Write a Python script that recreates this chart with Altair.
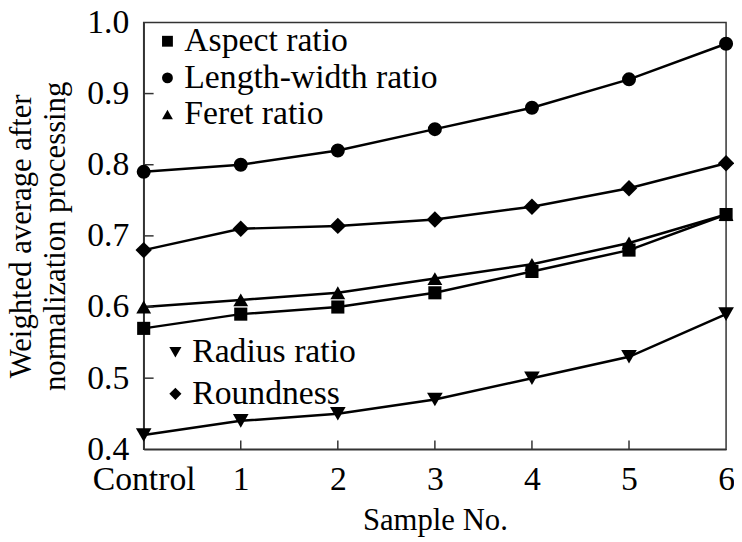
import altair as alt
import pandas as pd

samples = ["Control", "1", "2", "3", "4", "5", "6"]
aspect_ratio = [0.57, 0.59, 0.60, 0.62, 0.65, 0.68, 0.73]
length_width_ratio = [0.79, 0.80, 0.82, 0.85, 0.88, 0.92, 0.97]
feret_ratio = [0.60, 0.61, 0.62, 0.64, 0.66, 0.69, 0.73]
radius_ratio = [0.42, 0.44, 0.45, 0.47, 0.50, 0.53, 0.59]
roundness = [0.68, 0.71, 0.714, 0.723, 0.741, 0.767, 0.802]

all_series = ["Aspect ratio", "Length-width ratio", "Feret ratio", "Radius ratio", "Roundness"]
group_a = ["Aspect ratio", "Length-width ratio", "Feret ratio"]
group_b = ["Radius ratio", "Roundness"]
shapes_a = ["square", "circle", "triangle-up"]
shapes_b = ["triangle-down", "diamond"]
marker_sizes = [175, 275, 220, 240, 260]

y_ticks = [0.4, 0.5, 0.6, 0.7, 0.8, 0.9, 1.0]
inner_y_ticks = [0.5, 0.6, 0.7, 0.8, 0.9]
inner_x_ticks = ["1", "2", "3", "4", "5"]

series = dict(zip(all_series, [aspect_ratio, length_width_ratio, feret_ratio,
                               radius_ratio, roundness]))
rows = []
for name, vals in series.items():
    for s, v in zip(samples, vals):
        rows.append({"sample": s, "value": v, "series": name})
df = pd.DataFrame(rows)

FONT = "Liberation Serif, Times New Roman, serif"
W, H = 588, 431

xscale = alt.Scale(type="point", padding=0, domain=samples)
yscale = alt.Scale(domain=[0.4, 1.0], nice=False, zero=False)

xenc = alt.X(
    "sample:O", sort=samples, scale=xscale,
    axis=alt.Axis(title="Sample No.", labelAngle=0, ticks=False, labelPadding=14,
                  titlePadding=9),
)
yenc = alt.Y(
    "value:Q", scale=yscale,
    axis=alt.Axis(
        title=["Weighted average after", "normalization processing"],
        values=y_ticks, format=".1f", ticks=False, labelPadding=15,
        titlePadding=15, grid=False,
    ),
)
size_enc = alt.Size("series:N", scale=alt.Scale(domain=all_series, range=marker_sizes),
                    legend=None)

base = alt.Chart(df)

lines = base.mark_line(color="black", strokeWidth=2.5).encode(
    x=xenc, y=yenc, detail="series:N"
)

pts_a = base.transform_filter(
    alt.FieldOneOfPredicate(field="series", oneOf=group_a)
).mark_point(filled=True, color="black", opacity=1).encode(
    x=xenc, y=yenc, size=size_enc,
    shape=alt.Shape(
        "series:N",
        scale=alt.Scale(domain=group_a, range=shapes_a),
        legend=alt.Legend(orient="none", legendX=7, legendY=2, title=None,
                          rowPadding=3),
    ),
)

pts_b = base.transform_filter(
    alt.FieldOneOfPredicate(field="series", oneOf=group_b)
).mark_point(filled=True, color="black", opacity=1).encode(
    x=xenc, y=yenc, size=size_enc,
    shape=alt.Shape(
        "series:N",
        scale=alt.Scale(domain=group_b, range=shapes_b),
        legend=alt.Legend(orient="none", legendX=15, legendY=316, title=None,
                          rowPadding=8, symbolSize=150),
    ),
)

ytick_df = pd.DataFrame({"t": inner_y_ticks})
yticks = alt.Chart(ytick_df).mark_rule(color="#333", strokeWidth=1.5).encode(
    y=alt.Y("t:Q", scale=yscale),
    x=alt.value(0), x2=alt.value(10),
)
xtick_df = pd.DataFrame({"s": inner_x_ticks})
xticks = alt.Chart(xtick_df).mark_rule(color="#333", strokeWidth=1.5).encode(
    x=alt.X("s:O", sort=samples, scale=xscale),
    y=alt.value(H), y2=alt.value(H - 9),
)

chart = alt.layer(lines, yticks, xticks, pts_a, pts_b).resolve_scale(
    shape="independent"
).properties(
    width=W, height=H,
    autosize=alt.AutoSizeParams(type="none"),
    padding={"left": 137, "top": 12, "right": 8, "bottom": 90},
    background="white",
).configure_view(
    stroke="#333", strokeWidth=1.5
).configure_axis(
    labelFont=FONT, labelFontSize=34, labelColor="black",
    titleFont=FONT, titleFontSize=31, titleFontWeight="normal", titleColor="black",
    titleLineHeight=35,
    domainColor="#333", domainWidth=1.5,
).configure_legend(
    labelFont=FONT, labelFontSize=34, labelColor="black",
    symbolSize=120, symbolStrokeWidth=0, symbolFillColor="black",
    labelOffset=0, padding=0, labelLimit=0,
)

chart.save("out.html", embed_options={"renderer": "svg", "actions": False})
